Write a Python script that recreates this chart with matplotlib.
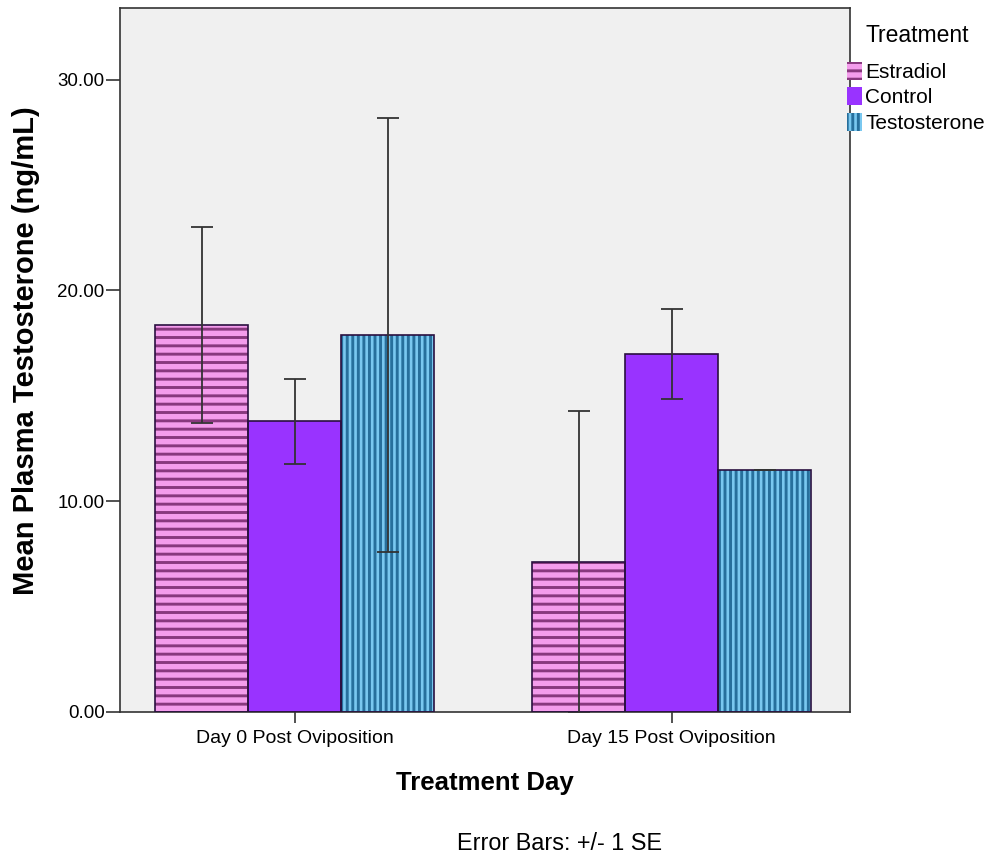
import numpy as np
import matplotlib
matplotlib.use("Agg")
import matplotlib.pyplot as plt
from matplotlib.patches import Patch

days = ["Day 0 Post Oviposition", "Day 15 Post Oviposition"]
treatments = ["Estradiol", "Control", "Testosterone"]
means = {
    "Estradiol": [18.34, 7.11],
    "Control": [13.8, 16.97],
    "Testosterone": [17.87, 11.47],
}
ses = {
    "Estradiol": [4.65, 7.16],
    "Control": [2.02, 2.13],
    "Testosterone": [10.3, 0.0],
}

fills = {"Estradiol": "#f49cec", "Control": "#9933ff", "Testosterone": "#7ac8f0"}
hatch_cols = {"Estradiol": "#88387e", "Control": "#9933ff", "Testosterone": "#276f9c"}
hatches = {"Estradiol": "--", "Control": None, "Testosterone": "|||"}

plt.rcParams["hatch.linewidth"] = 2.1
plt.rcParams["font.family"] = ["Liberation Sans", "DejaVu Sans"]

fig = plt.figure(figsize=(9.94, 8.58), dpi=100)
ax = fig.add_axes([0.1207, 0.1702, 0.855 - 0.1207, 0.9907 - 0.1702])
ax.set_facecolor("#f0f0f0")

x = np.arange(len(days))
w = 0.2467
for i, t in enumerate(treatments):
    pos = x + (i - 1) * w
    ax.bar(pos, means[t], w, color=fills[t], edgecolor=hatch_cols[t],
           hatch=hatches[t], linewidth=0, zorder=2)
    ax.bar(pos, means[t], w, fill=False, edgecolor="#2a1040", linewidth=1.2, zorder=3)
    ax.errorbar(pos, means[t], yerr=ses[t], fmt="none", ecolor="#333333",
                elinewidth=1.3, capsize=8, capthick=1.3, zorder=4)

ax.set_xlim(-0.463, 1.473)
ax.set_ylim(0, 33.4)
ax.set_yticks([0, 10, 20, 30])
ax.set_yticklabels(["0.00", "10.00", "20.00", "30.00"])
ax.set_xticks(x)
ax.set_xticklabels(days)
ax.tick_params(axis="y", labelsize=13.5, length=10, width=1.2, color="#333333", pad=1)
ax.tick_params(axis="x", labelsize=14, length=8, width=1.2, color="#333333", pad=5)
for s in ax.spines.values():
    s.set_color("#333333")
    s.set_linewidth(1.2)

fig.text(26 / 994, 1 - 351 / 858, "Mean Plasma Testosterone (ng/mL)", fontsize=21,
         fontweight="bold", rotation=90, ha="center", va="center")
fig.text(485 / 994, 1 - 783 / 858, "Treatment Day", fontsize=18.5, fontweight="bold",
         ha="center", va="center")
fig.text(560 / 994, 1 - 843 / 858, "Error Bars: +/- 1 SE", fontsize=16.8,
         ha="center", va="center")

# legend title drawn separately so its gap to the entries can be matched
fig.text(917 / 994, 1 - 35 / 858, "Treatment", fontsize=16.5, ha="center", va="center")
handles = [Patch(facecolor=fills[t], edgecolor=hatch_cols[t], hatch=hatches[t], linewidth=0)
           for t in treatments]
leg = fig.legend(handles, treatments, loc="upper left",
                 bbox_to_anchor=(0.852, 1 - 62 / 858), frameon=False, fontsize=15,
                 handlelength=0.72, handleheight=0.95,
                 handletextpad=0.15, labelspacing=0.25, borderaxespad=0, borderpad=0)

fig.savefig("out.png", dpi=100)
